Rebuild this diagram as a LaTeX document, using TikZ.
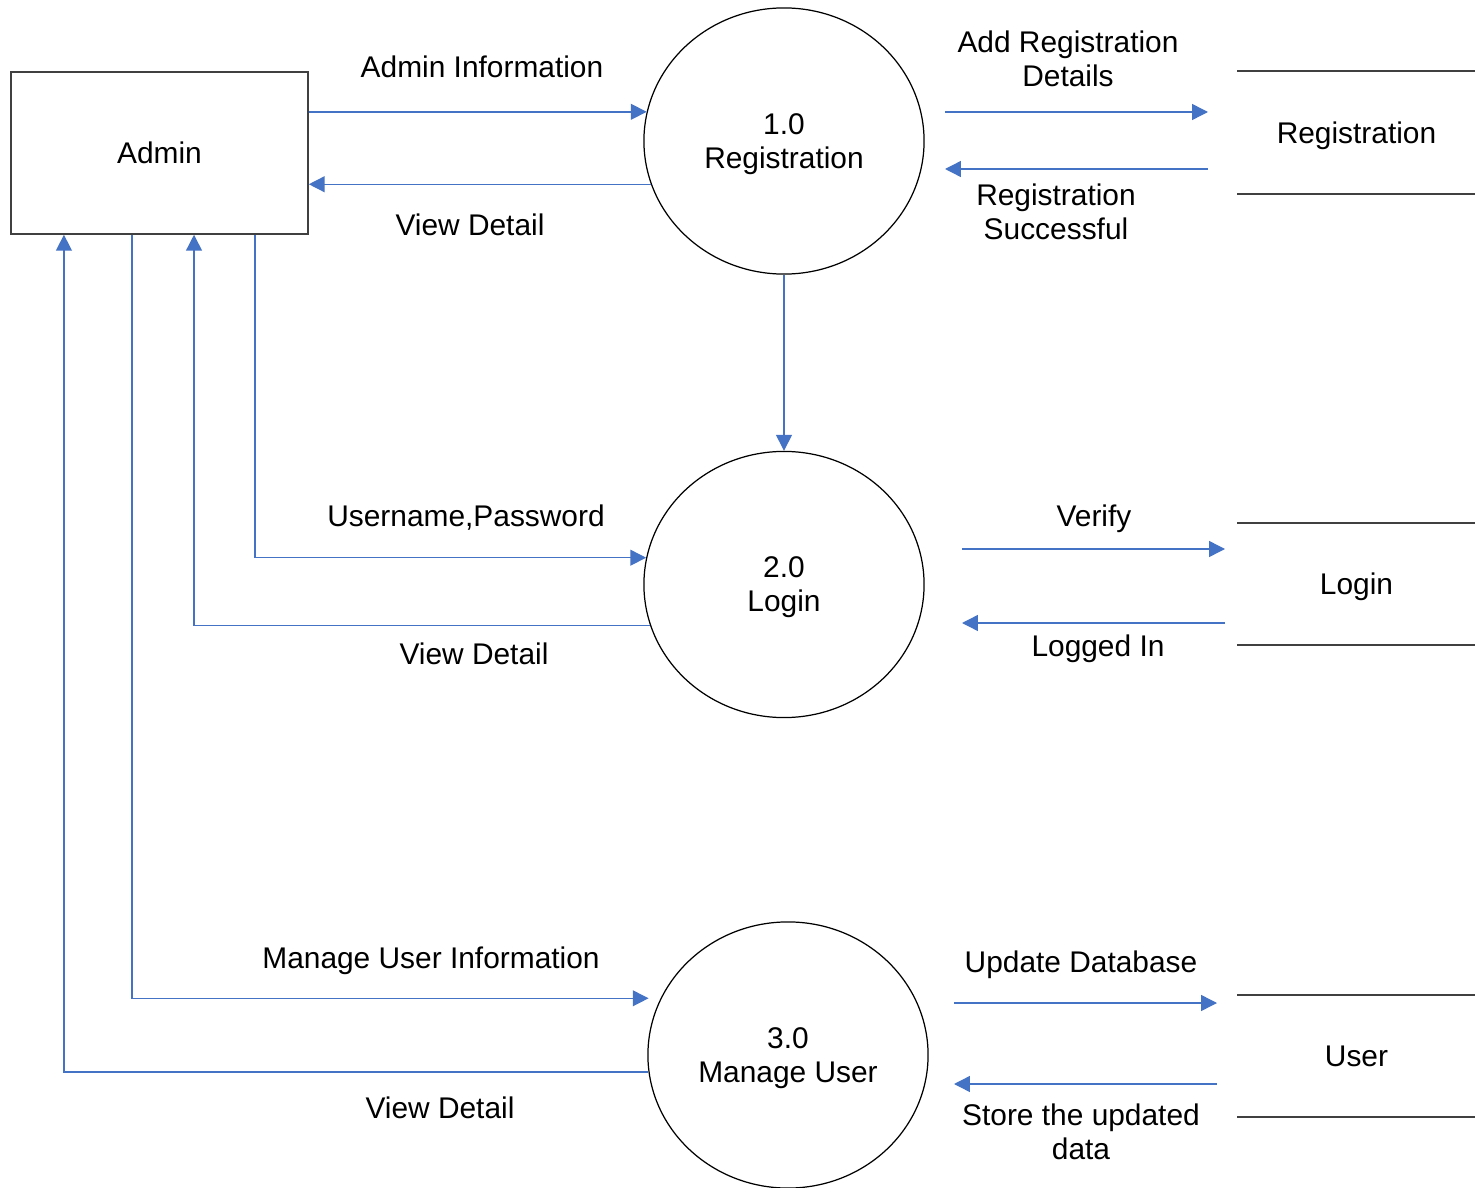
\documentclass[tikz,border=0pt]{standalone}
\usepackage{fontspec}
\setmainfont{Liberation Sans}
\usetikzlibrary{arrows.meta,shapes.geometric}
\definecolor{flowblue}{RGB}{68,114,196}
\begin{document}
\begin{tikzpicture}[x=0.01cm,y=-0.01cm,font=\fontsize{8.5pt}{9.7pt}\selectfont]
\tikzset{process/.style = {shape=ellipse,draw,line width=0.35pt,minimum width=2.8cm,minimum height=2.66cm,align=center,inner sep=0pt,text depth=0pt}}
\tikzset{entity/.style = {shape=rectangle,draw=black!75,line width=0.4pt,minimum width=2.97cm,minimum height=1.62cm}}
\tikzset{store/.style = {minimum width=2.37cm,minimum height=1.21cm,text depth=0pt}}
\tikzset{edge/.style = {draw=flowblue,line width=0.4pt,-{Triangle[length=4.5pt,width=4.5pt]}}}
\tikzset{lbl/.style = {align=center,inner sep=0pt,text depth=0pt}}
\useasboundingbox (0,0) rectangle (1475,1188);
\node[entity] (admin) at (159.5,153) {Admin};
\node[process] (reg) at (784,141) {1.0\\Registration};
\node[process] (login) at (784,584.5) {2.0\\Login};
\node[process] (manage) at (788,1055) {3.0\\Manage User};
\node[store] (regstore) at (1356.5,132.5) {Registration};
\node[store] (loginstore) at (1356.5,584) {Login};
\node[store] (userstore) at (1356.5,1056) {User};
\foreach \s in {regstore,loginstore,userstore}
  {\draw[black!75,line width=0.5pt] (\s.north west) -- (\s.north east);
   \draw[black!75,line width=0.5pt] (\s.south west) -- (\s.south east);}
\coordinate (rin) at (945,112);
\coordinate (rout) at (1208,112);
\coordinate (rback) at (1208,169);
\coordinate (rend) at (945,169);
\coordinate (lin) at (962,549);
\coordinate (lout) at (1225,549);
\coordinate (lback) at (1225,623);
\coordinate (lend) at (962,623);
\coordinate (uin) at (954,1003);
\coordinate (uout) at (1217,1003);
\coordinate (uback) at (1217,1084);
\coordinate (uend) at (954,1084);
\draw[edge] (admin.east |- reg.168) to (reg.168);
\draw[edge] (reg.198) to (admin.east |- reg.198);
\draw[edge] (reg) to (login);
\draw[edge] ([xshift=0.955cm]admin.south) |- (login.169);
\draw[edge] (login.197) -| ([xshift=0.345cm]admin.south);
\draw[edge,shorten >=0.12cm] ([xshift=-0.275cm]admin.south) |- (manage.156);
\draw[edge] (manage.187) -| ([xshift=-0.955cm]admin.south);
\draw[edge] (rin) to (rout);
\draw[edge] (rback) to (rend);
\draw[edge] (lin) to (lout);
\draw[edge] (lback) to (lend);
\draw[edge] (uin) to (uout);
\draw[edge] (uback) to (uend);
\node[lbl] (l1) at (482,67) {Admin Information};
\node[lbl] (l2) at (470,225) {View Detail};
\node[lbl] (l3) at (1068,59) {Add Registration\\Details};
\node[lbl] (l4) at (1056,212) {Registration\\Successful};
\node[lbl] (l5) at (466,516) {Username,Password};
\node[lbl] (l6) at (474,654) {View Detail};
\node[lbl] (l7) at (1094,516) {Verify};
\node[lbl] (l8) at (1098,646) {Logged In};
\node[lbl] (l9) at (431,958) {Manage User Information};
\node[lbl] (l10) at (440,1108) {View Detail};
\node[lbl] (l11) at (1081,962) {Update Database};
\node[lbl] (l12) at (1081,1132) {Store the updated\\data};
\end{tikzpicture}
\end{document}
